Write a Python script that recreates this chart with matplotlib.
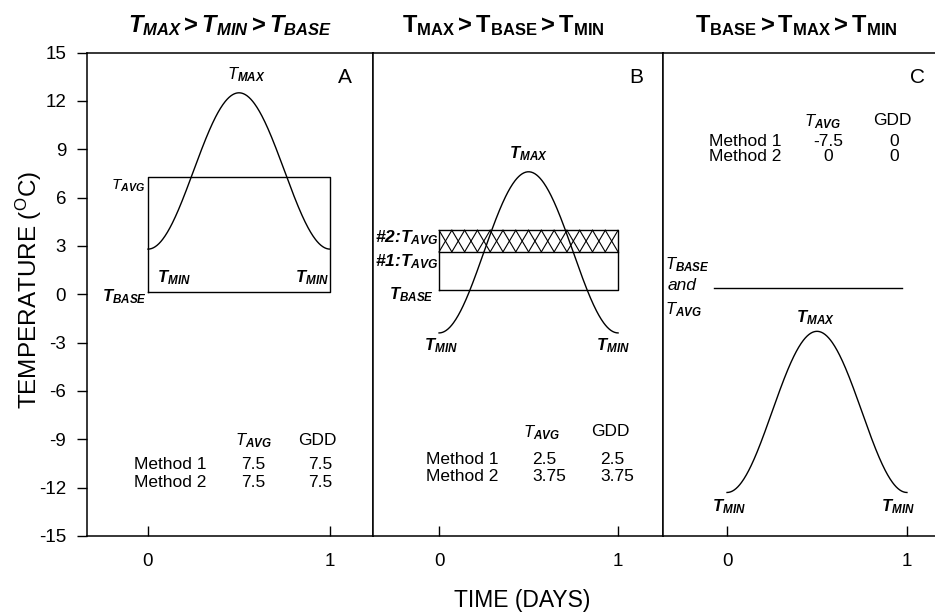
import numpy as np
import matplotlib
matplotlib.use("Agg")
import matplotlib.pyplot as plt

plt.rcParams['font.family'] = ['Liberation Sans', 'DejaVu Sans']
plt.rcParams['mathtext.fontset'] = 'custom'
plt.rcParams['mathtext.rm'] = 'Liberation Sans'
plt.rcParams['mathtext.it'] = 'Liberation Sans:italic'
plt.rcParams['mathtext.bf'] = 'Liberation Sans:bold'
plt.rcParams['mathtext.bfit'] = 'Liberation Sans:bold:italic'

# ---- data (as drawn in the figure) ----
panel_letters = ['A', 'B', 'C']
curve_tmin = [2.8, -2.4, -12.3]
curve_tmax = [12.5, 7.6, -2.3]
base_line = [0.12, 0.27, 0.37]
avg1_line = [7.3, 2.63, 0.37]
avg2_line = [7.3, 3.97, 0.37]
yticks = [-15, -12, -9, -6, -3, 0, 3, 6, 9, 12, 15]
xticks = [0, 1]

methods = ['Method 1', 'Method 2']
tavg_A = ['7.5', '7.5']
gdd_A = ['7.5', '7.5']
tavg_B = ['2.5', '3.75']
gdd_B = ['2.5', '3.75']
tavg_C = ['-7.5', '0']
gdd_C = ['0', '0']

def T(sub, boldT=True):
    t = r'\mathbfit{T}' if boldT else r'\mathit{T}'
    return r'$%s_{\mathbfit{%s}}$' % (t, sub)

fig = plt.figure(figsize=(9.35, 6.13), dpi=100)
W, H = 935, 613
bot = 1 - 536 / H
top = 1 - 52.5 / H
lefts = [87, 373, 663]
rights = [373, 663, 935]
xlims = [(-0.335, 1.236), (-0.369, 1.251), (-0.356, 1.156)]
axes = []
for i in range(3):
    ax = fig.add_axes([lefts[i] / W, bot, (rights[i] - lefts[i]) / W, top - bot])
    ax.set_xlim(*xlims[i])
    ax.set_ylim(-15, 15)
    ax.set_xticks(xticks)
    ax.set_xticklabels([str(v) for v in xticks], fontsize=13.5)
    ax.tick_params(axis='x', direction='in', length=7, width=1, pad=12)
    for s in ax.spines.values():
        s.set_linewidth(1.1)
    if i == 0:
        ax.set_yticks(yticks)
        ax.set_yticklabels([str(v) for v in yticks], fontsize=13.5)
        ax.tick_params(axis='y', direction='out', length=7, width=1, pad=8)
    else:
        ax.set_yticks([])
    if i == 2:
        ax.spines['right'].set_visible(False)
    axes.append(ax)

x = np.linspace(0, 1, 300)
letter_x = [1.08, 1.1, 1.06]
for i, ax in enumerate(axes):
    lo, hi = curve_tmin[i], curve_tmax[i]
    y = lo + (hi - lo) * (1 - np.cos(2 * np.pi * x)) / 2
    ax.plot(x, y, color='black', lw=1.0)
    ax.text(letter_x[i], 13.45, panel_letters[i], fontsize=15, ha='center', va='center')

lw = 1.0
# Panel A
axA = axes[0]
axA.plot([0, 1, 1, 0, 0], [base_line[0], base_line[0], avg1_line[0], avg1_line[0], base_line[0]],
         color='black', lw=lw)
axA.text(0.54, 13.65, T('MAX', False), fontsize=12, ha='center', va='center')
axA.text(-0.016, 6.75, T('AVG', False), fontsize=11, ha='right', va='center')
axA.text(0.05, 1.05, T('MIN'), fontsize=12, ha='left', va='center')
axA.text(0.81, 1.05, T('MIN'), fontsize=12, ha='left', va='center')
axA.text(-0.005, -0.15, T('BASE'), fontsize=12, ha='right', va='center')
axA.text(0.58, -9.1, T('AVG', False), fontsize=12, ha='center', va='center')
axA.text(0.93, -9.05, 'GDD', fontsize=12.5, ha='center', va='center')
for r, yy in enumerate([-10.55, -11.7]):
    axA.text(0.12, yy, methods[r], fontsize=12.5, ha='center', va='center')
    axA.text(0.58, yy, tavg_A[r], fontsize=12.5, ha='center', va='center')
    axA.text(0.945, yy, gdd_A[r], fontsize=12.5, ha='center', va='center')

# Panel B
axB = axes[1]
lo, m1, m2 = base_line[1], avg1_line[1], avg2_line[1]
axB.plot([0, 1, 1, 0, 0], [lo, lo, m2, m2, lo], color='black', lw=lw)
axB.plot([0, 1], [m1, m1], color='black', lw=lw)
n = 14
edges = np.linspace(0, 1, n + 1)
for a, b in zip(edges[:-1], edges[1:]):
    axB.plot([a, b], [m1, m2], color='black', lw=0.8)
    axB.plot([a, b], [m2, m1], color='black', lw=0.8)
axB.text(0.5, 8.7, T('MAX'), fontsize=12, ha='center', va='center')
axB.text(0.0, 3.5, r'#2:$\mathbfit{T}_{\mathbfit{AVG}}$', fontsize=12.5, weight='bold',
         style='italic', ha='right', va='center')
axB.text(0.0, 2.05, r'#1:$\mathbfit{T}_{\mathbfit{AVG}}$', fontsize=12.5, weight='bold',
         style='italic', ha='right', va='center')
axB.text(-0.03, -0.05, T('BASE'), fontsize=12, ha='right', va='center')
axB.text(0.01, -3.2, T('MIN'), fontsize=12, ha='center', va='center')
axB.text(0.97, -3.2, T('MIN'), fontsize=12, ha='center', va='center')
axB.text(0.575, -8.6, T('AVG', False), fontsize=12, ha='center', va='center')
axB.text(0.955, -8.5, 'GDD', fontsize=12.5, ha='center', va='center')
for r, yy in enumerate([-10.25, -11.3]):
    axB.text(0.128, yy, methods[r], fontsize=12.5, ha='center', va='center')
    axB.text(0.52, yy, tavg_B[r], fontsize=12.5, ha='left', va='center')
    axB.text(0.9, yy, gdd_B[r], fontsize=12.5, ha='left', va='center')

# Panel C
axC = axes[2]
axC.plot([-0.07, 0.97], [base_line[2], base_line[2]], color='black', lw=lw)
axC.text(-0.345, 1.86, T('BASE', False), fontsize=12, ha='left', va='center')
axC.text(-0.33, 0.56, 'and', fontsize=12.5, style='italic', ha='left', va='center')
axC.text(-0.345, -0.95, T('AVG', False), fontsize=12, ha='left', va='center')
axC.text(0.49, -1.45, T('MAX'), fontsize=12, ha='center', va='center')
axC.text(0.01, -13.2, T('MIN'), fontsize=12, ha='center', va='center')
axC.text(0.95, -13.2, T('MIN'), fontsize=12, ha='center', va='center')
axC.text(0.53, 10.7, T('AVG', False), fontsize=12, ha='center', va='center')
axC.text(0.92, 10.8, 'GDD', fontsize=12.5, ha='center', va='center')
for r, yy in enumerate([9.45, 8.55]):
    axC.text(0.1, yy, methods[r], fontsize=12.5, ha='center', va='center')
    axC.text(0.56, yy, tavg_C[r], fontsize=12.5, ha='center', va='center')
    axC.text(0.93, yy, gdd_C[r], fontsize=12.5, ha='center', va='center')

# Titles
ty = 1 + (52.5 - 32) / (536 - 52.5)
axA.text(0.5, ty, r'$\mathbfit{T}_{\mathbfit{MAX}}\mathbf{>}\mathbfit{T}_{\mathbfit{MIN}}\mathbf{>}\mathbfit{T}_{\mathbfit{BASE}}$',
         transform=axA.transAxes, fontsize=17, ha='center', va='baseline')
axB.text(0.45, ty, r'$\mathbf{T}_{\mathbf{MAX}}\mathbf{>}\mathbf{T}_{\mathbf{BASE}}\mathbf{>}\mathbf{T}_{\mathbf{MIN}}$',
         transform=axB.transAxes, fontsize=17, ha='center', va='baseline')
axC.text(0.49, ty, r'$\mathbf{T}_{\mathbf{BASE}}\mathbf{>}\mathbf{T}_{\mathbf{MAX}}\mathbf{>}\mathbf{T}_{\mathbf{MIN}}$',
         transform=axC.transAxes, fontsize=17, ha='center', va='baseline')

fig.text(29 / W, 1 - 290 / H, r'TEMPERATURE ($^{\mathrm{O}}$C)', rotation=90, fontsize=17.5,
         ha='center', va='center')
fig.text(522 / W, 1 - 601 / H, 'TIME (DAYS)', fontsize=16.5, ha='center', va='center')

fig.savefig('out.png', dpi=100)
